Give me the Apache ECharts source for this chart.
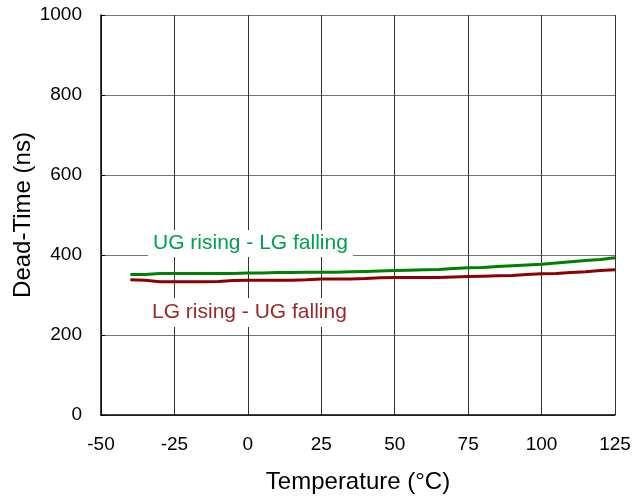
<!DOCTYPE html>
<html><head><meta charset="utf-8">
<script src="https://cdn.jsdelivr.net/npm/echarts@6/dist/echarts.min.js"></script>
<style>html,body{margin:0;padding:0;background:#fff}#c{width:633px;height:497px}</style>
</head><body><div id="c"></div>
<script>
const temps = [-40,-35,-30,-25,-20,-15,-10,-5,0,5,10,15,20,25,30,35,40,45,50,55,60,65,70,75,80,85,90,95,100,105,110,115,120,125];
const ugRising = [351,351,354,354,354,354,354,354,355,355,356,356,357,357,357,358,359,360,361,362,363,364,366,368,369,371,373,375,377,380,383,386,389,393];
const lgRising = [338,337,333,333,333,333,334,336,337,337,337,337,338,340,340,340,341,343,344,344,344,344,345,346,347,348,349,351,353,354,356,358,361,363];
const xTicks = [-50,-25,0,25,50,75,100,125];
const yTicks = [0,200,400,600,800,1000];
const seriesNames = ['UG rising - LG falling','LG rising - UG falling'];

const font = 'Liberation Sans, Arial, sans-serif';
const chart = echarts.init(document.getElementById('c'), null, {renderer:'canvas'});
chart.setOption({
  animation:false,
  grid:{left:101,right:18,top:15,bottom:82,containLabel:false,outerBoundsMode:'none'},
  xAxis:{type:'value',min:xTicks[0],max:xTicks[xTicks.length-1],interval:25,
    name:'Temperature (°C)',nameLocation:'middle',nameGap:55,
    nameTextStyle:{fontFamily:font,fontSize:24,color:'#000'},
    axisLine:{show:true,onZero:false,lineStyle:{color:'#000',width:1.5}},
    axisTick:{show:false},
    axisLabel:{fontFamily:font,fontSize:19,color:'#000',margin:20,formatter:v=>String(v)},
    splitLine:{show:true,lineStyle:{color:'#333',width:1}}},
  yAxis:{type:'value',min:yTicks[0],max:yTicks[yTicks.length-1],interval:200,
    name:'Dead-Time (ns)',nameLocation:'middle',nameGap:66,nameMoveOverlap:false,
    nameTextStyle:{fontFamily:font,fontSize:24,color:'#000'},
    axisLine:{show:true,onZero:false,lineStyle:{color:'#000',width:1.5}},
    axisTick:{show:true,inside:true,length:4,lineStyle:{color:'#000'}},
    axisLabel:{fontFamily:font,fontSize:19,color:'#000',margin:19,formatter:v=>String(v)},
    splitLine:{show:true,lineStyle:{color:'#777',width:1.2}}},
  series:[
    {name:seriesNames[0],type:'line',data:temps.map((t,i)=>[t,ugRising[i]]),showSymbol:false,
     lineStyle:{color:'#008000',width:3},z:3},
    {name:seriesNames[1],type:'line',data:temps.map((t,i)=>[t,lgRising[i]]),showSymbol:false,
     lineStyle:{color:'#8B0000',width:3},z:3}
  ],
  graphic:[
    {type:'text',left:148,top:230,z:10,style:{text:seriesNames[0],fontFamily:font,fontSize:21,fill:'#00A050',
      backgroundColor:'#fff',padding:[3,5,3,5]}},
    {type:'text',left:147,top:298,z:10,style:{text:seriesNames[1],fontFamily:font,fontSize:21,fill:'#9B2A2A',
      backgroundColor:'#fff',padding:[4,5,4,5]}}
  ]
});
</script></body></html>
